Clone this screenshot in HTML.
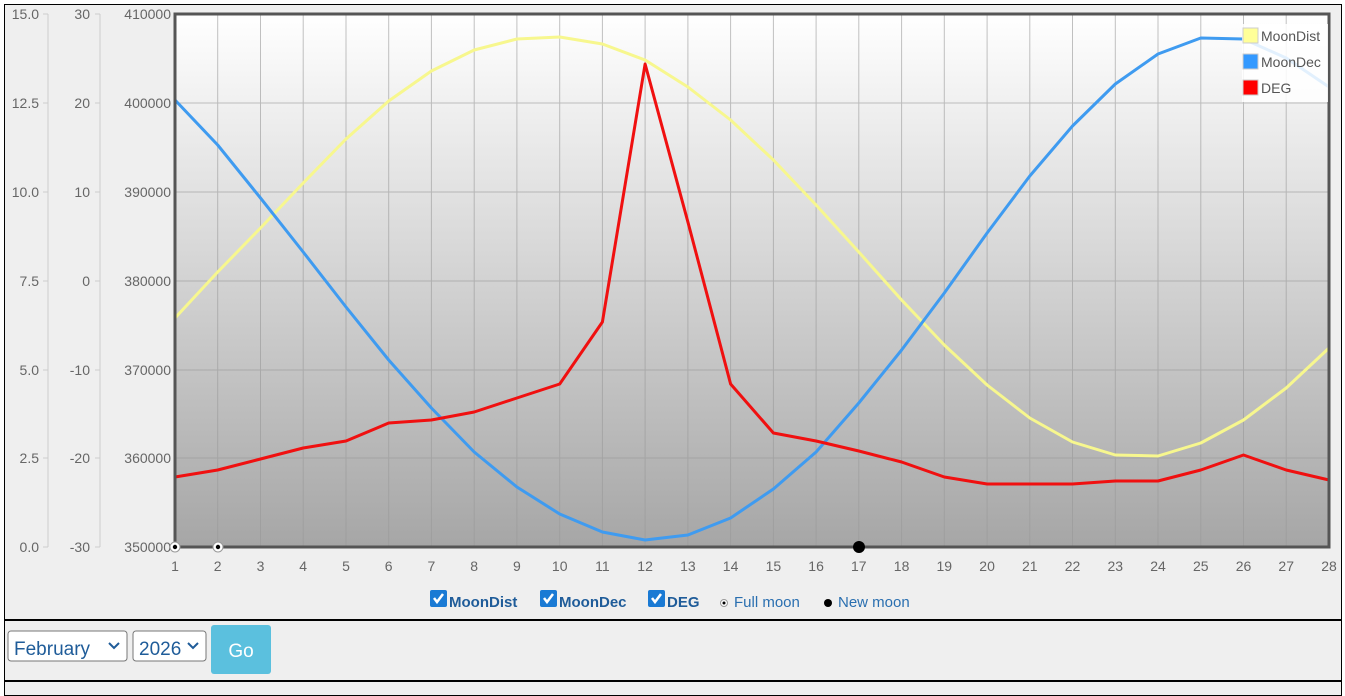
<!DOCTYPE html>
<html><head><style>
body{margin:0;background:#fff;font-family:"Liberation Sans",sans-serif;}
#wrap{position:absolute;left:4px;top:4px;width:1336px;height:690px;border:1px solid #000;background:#efefef;}
</style></head><body>
<div id="wrap"></div>
<svg width="1345" height="689" style="position:absolute;left:0;top:0" font-family="Liberation Sans, sans-serif">
<defs><linearGradient id="g" x1="0" y1="0" x2="0" y2="1"><stop offset="0" stop-color="#ffffff"/><stop offset="1" stop-color="#a6a6a6"/></linearGradient></defs>
<rect x="175" y="14" width="1154" height="533" fill="url(#g)"/>
<g stroke="#999" stroke-width="1" opacity="0.6">
<line x1="175" x2="1329" y1="103" y2="103"/><line x1="175" x2="1329" y1="192" y2="192"/><line x1="175" x2="1329" y1="281" y2="281"/><line x1="175" x2="1329" y1="370" y2="370"/><line x1="175" x2="1329" y1="458" y2="458"/>
<line x1="217.7" x2="217.7" y1="14" y2="547"/><line x1="260.5" x2="260.5" y1="14" y2="547"/><line x1="303.2" x2="303.2" y1="14" y2="547"/><line x1="346" x2="346" y1="14" y2="547"/><line x1="388.7" x2="388.7" y1="14" y2="547"/><line x1="431.4" x2="431.4" y1="14" y2="547"/><line x1="474.2" x2="474.2" y1="14" y2="547"/><line x1="516.9" x2="516.9" y1="14" y2="547"/><line x1="559.7" x2="559.7" y1="14" y2="547"/><line x1="602.4" x2="602.4" y1="14" y2="547"/><line x1="645.1" x2="645.1" y1="14" y2="547"/><line x1="687.9" x2="687.9" y1="14" y2="547"/><line x1="730.6" x2="730.6" y1="14" y2="547"/><line x1="773.4" x2="773.4" y1="14" y2="547"/><line x1="816.1" x2="816.1" y1="14" y2="547"/><line x1="858.8" x2="858.8" y1="14" y2="547"/><line x1="901.6" x2="901.6" y1="14" y2="547"/><line x1="944.3" x2="944.3" y1="14" y2="547"/><line x1="987.1" x2="987.1" y1="14" y2="547"/><line x1="1029.8" x2="1029.8" y1="14" y2="547"/><line x1="1072.5" x2="1072.5" y1="14" y2="547"/><line x1="1115.3" x2="1115.3" y1="14" y2="547"/><line x1="1158" x2="1158" y1="14" y2="547"/><line x1="1200.8" x2="1200.8" y1="14" y2="547"/><line x1="1243.5" x2="1243.5" y1="14" y2="547"/><line x1="1286.2" x2="1286.2" y1="14" y2="547"/>
</g>
<g fill="none" stroke-width="3" stroke-linejoin="round">
<polyline stroke="#f7f78e" points="175,318 217.7,272 260.5,228 303.2,183 346,139 388.7,101 431.4,71 474.2,50 516.9,39 559.7,37 602.4,44 645.1,60 687.9,87 730.6,120 773.4,160 816.1,205 858.8,252 901.6,300 944.3,345 987.1,385 1029.8,418 1072.5,442 1115.3,455 1158,456 1200.8,443 1243.5,420 1286.2,388 1329,348"/>
<polyline stroke="#3f9bf0" points="175,100 217.7,145 260.5,198 303.2,252 346,307 388.7,360 431.4,408 474.2,452 516.9,487 559.7,514 602.4,532 645.1,540 687.9,535 730.6,518 773.4,489 816.1,452 858.8,403 901.6,350 944.3,293 987.1,233 1029.8,176 1072.5,126 1115.3,84 1158,54 1200.8,38 1243.5,39 1286.2,58 1329,87"/>
<polyline stroke="#f01010" points="175,477 217.7,470 260.5,459 303.2,448 346,441 388.7,423 431.4,420 474.2,412 516.9,398 559.7,384 602.4,322 645.1,64 687.9,222 730.6,384 773.4,433 816.1,441 858.8,451 901.6,462 944.3,477 987.1,484 1029.8,484 1072.5,484 1115.3,481 1158,481 1200.8,470 1243.5,455 1286.2,470 1329,480"/>
</g>
<rect x="175" y="14" width="1154" height="533" fill="none" stroke="#555" stroke-width="3"/>
<rect x="1242" y="24" width="86" height="78" fill="#fff" opacity="0.85"/>
<g font-size="14" fill="#555">
<rect x="1243" y="28" width="15" height="15" fill="#ffff99" stroke="#ccc"/><text x="1261" y="41">MoonDist</text>
<rect x="1243" y="54" width="15" height="15" fill="#3399ff" stroke="#ccc"/><text x="1261" y="67">MoonDec</text>
<rect x="1243" y="80" width="15" height="15" fill="#ff0000" stroke="#ccc"/><text x="1261" y="93">DEG</text>
</g>
<g stroke="#ccc" fill="none"><line x1="48" x2="48" y1="14" y2="547"/><line x1="100" x2="100" y1="14" y2="547"/>
<path d="M43 14h5M43 103h5M43 192h5M43 281h5M43 370h5M43 458h5M43 547h5M95 14h5M95 103h5M95 192h5M95 281h5M95 370h5M95 458h5M95 547h5"/></g>
<g font-size="14" fill="#666" text-anchor="end">
<text x="39" y="19">15.0</text><text x="39" y="108">12.5</text><text x="39" y="197">10.0</text><text x="39" y="286">7.5</text><text x="39" y="375">5.0</text><text x="39" y="463">2.5</text><text x="39" y="552">0.0</text>
<text x="90" y="19">30</text><text x="90" y="108">20</text><text x="90" y="197">10</text><text x="90" y="286">0</text><text x="90" y="375">-10</text><text x="90" y="463">-20</text><text x="90" y="552">-30</text>
<text x="171" y="19">410000</text><text x="171" y="108">400000</text><text x="171" y="197">390000</text><text x="171" y="286">380000</text><text x="171" y="375">370000</text><text x="171" y="463">360000</text><text x="171" y="552">350000</text>
</g>
<g font-size="14" fill="#666" text-anchor="middle">
<text x="175" y="571">1</text><text x="217.7" y="571">2</text><text x="260.5" y="571">3</text><text x="303.2" y="571">4</text><text x="346" y="571">5</text><text x="388.7" y="571">6</text><text x="431.4" y="571">7</text><text x="474.2" y="571">8</text><text x="516.9" y="571">9</text><text x="559.7" y="571">10</text><text x="602.4" y="571">11</text><text x="645.1" y="571">12</text><text x="687.9" y="571">13</text><text x="730.6" y="571">14</text><text x="773.4" y="571">15</text><text x="816.1" y="571">16</text><text x="858.8" y="571">17</text><text x="901.6" y="571">18</text><text x="944.3" y="571">19</text><text x="987.1" y="571">20</text><text x="1029.8" y="571">21</text><text x="1072.5" y="571">22</text><text x="1115.3" y="571">23</text><text x="1158" y="571">24</text><text x="1200.8" y="571">25</text><text x="1243.5" y="571">26</text><text x="1286.2" y="571">27</text><text x="1329" y="571">28</text>
</g>
<circle cx="175" cy="547" r="5" fill="#fff" stroke="#999"/><circle cx="175" cy="547" r="2.2" fill="#000"/>
<circle cx="218" cy="547" r="5" fill="#fff" stroke="#999"/><circle cx="218" cy="547" r="2.2" fill="#000"/>
<circle cx="859" cy="547" r="6" fill="#000"/>
<g font-size="15">
<rect x="430" y="590" width="17" height="17" rx="2" fill="#1a7ad4"/><path d="M434 598l3 4 6-8" stroke="#fff" stroke-width="2.5" fill="none"/>
<text x="449" y="607" fill="#1f5c99" font-weight="bold">MoonDist</text>
<rect x="540" y="590" width="17" height="17" rx="2" fill="#1a7ad4"/><path d="M544 598l3 4 6-8" stroke="#fff" stroke-width="2.5" fill="none"/>
<text x="559" y="607" fill="#1f5c99" font-weight="bold">MoonDec</text>
<rect x="648" y="590" width="17" height="17" rx="2" fill="#1a7ad4"/><path d="M652 598l3 4 6-8" stroke="#fff" stroke-width="2.5" fill="none"/>
<text x="667" y="607" fill="#1f5c99" font-weight="bold">DEG</text>
<circle cx="724" cy="603" r="3.5" fill="#fff" stroke="#999"/><circle cx="724" cy="603" r="1.5" fill="#000"/>
<text x="734" y="607" fill="#2a6fb0">Full moon</text>
<circle cx="828" cy="603" r="4" fill="#000"/>
<text x="838" y="607" fill="#2a6fb0">New moon</text>
</g>
<rect x="4" y="619" width="1337" height="2" fill="#000"/>
<rect x="4" y="680" width="1337" height="2" fill="#000"/>
<rect x="8" y="631" width="119" height="30" rx="3" fill="#fff" stroke="#777"/>
<text x="14" y="655" font-size="19" fill="#1f5c99">February</text>
<path d="M109 643l5 5 5-5" stroke="#1f5c99" stroke-width="2" fill="none"/>
<rect x="133" y="631" width="73" height="30" rx="3" fill="#fff" stroke="#777"/>
<text x="139" y="655" font-size="19" fill="#1f5c99">2026</text>
<path d="M188 643l5 5 5-5" stroke="#1f5c99" stroke-width="2" fill="none"/>
<rect x="211" y="625" width="60" height="49" rx="3" fill="#5bc0de"/>
<text x="241" y="657" font-size="19" fill="#fff" text-anchor="middle">Go</text>
</svg>
</body></html>
